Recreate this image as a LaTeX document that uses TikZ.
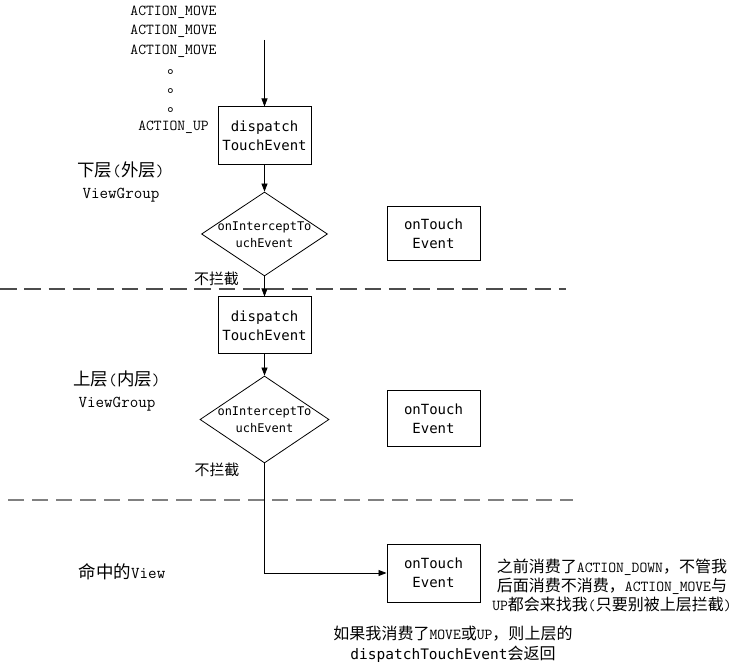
\documentclass[tikz,border=0pt]{standalone}
\usepackage{fontspec}
\newfontfamily\cjk{Noto Sans CJK SC}[Scale=1.053]
\newfontfamily\mono{DejaVu Sans Mono}
\newcommand\zhtxt[1]{{\cjk #1}}
\usetikzlibrary{shapes.geometric,arrows.meta}
\tikzset{
 box/.style={draw, line width=1pt, minimum width=93pt, inner sep=0pt, align=center, font=\mono\fontsize{14}{19}\selectfont},
 dia/.style={draw, diamond, line width=0.8pt, inner sep=0pt},
 diatext/.style={align=center, inner sep=0pt, font=\mono\fontsize{12}{17}\selectfont},
 lab/.style={inner sep=0pt, font=\ttfamily\fontsize{15.2}{19}\selectfont},
 small/.style={inner sep=0pt, font=\cjk\fontsize{14.2}{18}\selectfont},
 side/.style={inner sep=0pt, align=center, font=\ttfamily\fontsize{16.6}{22}\selectfont},
 conn/.style={line width=0.8pt},
 arr/.style={conn, -{Triangle[length=8pt,width=6pt]}},
 sepa/.style={draw=black!70, line width=1.1pt, dash pattern=on 16.7pt off 7.6pt},
 sepb/.style={draw=black!50, line width=1.7pt, dash pattern=on 16pt off 8pt},
}
\begin{document}
\begin{tikzpicture}[x=1pt,y={(0pt,-1pt)}]
\useasboundingbox (0,0) rectangle (732,663);
% top event list
\node[lab] (am1) at (173.5,12) {ACTION\_MOVE};
\node[lab] (am2) at (173.5,31.5) {ACTION\_MOVE};
\node[lab] (am3) at (173.5,51) {ACTION\_MOVE};
\node[lab] (dt1) at (175.5,72) {\zhtxt{。}};
\node[lab] (dt2) at (175.5,91) {\zhtxt{。}};
\node[lab] (dt3) at (175.5,110) {\zhtxt{。}};
\node[lab] (aup) at (173.5,127) {ACTION\_UP};
% boxes
\node[box, minimum height=58pt] (dte1) at (264.5,136) {dispatch\\TouchEvent};
\node[box, minimum height=57pt] (dte2) at (264.5,325.5) {dispatch\\TouchEvent};
\node[box, minimum height=54pt] (ote1) at (433.5,234) {onTouch\\Event};
\node[box, minimum height=56pt] (ote2) at (433.5,419) {onTouch\\Event};
\node[box, minimum height=58pt] (ote3) at (433.5,573) {onTouch\\Event};
% diamonds
\node[dia, minimum width=126pt, minimum height=84pt] (oi1) at (264.5,234) {};
\node[diatext] (oi1t) at (264.5,235) {onInterceptTo\\uchEvent};
\node[dia, minimum width=129pt, minimum height=87pt] (oi2) at (264.5,419.5) {};
\node[diatext] (oi2t) at (264.5,419.5) {onInterceptTo\\uchEvent};
% connectors
\coordinate (start) at (264.5,40);
\draw[arr] (start) -- (dte1.north);
\draw[arr] (dte1.south) -- (oi1.north);
\draw[arr] (oi1.south) -- (dte2.north);
\draw[arr] (dte2.south) -- (oi2.north);
\draw[arr] (oi2.south) |- (ote3.west);
% no-intercept labels
\node[small] (ni1) at (216.5,279) {不拦截};
\node[small] (ni2) at (217,470) {不拦截};
% separators
\coordinate (s1a) at (0,289);
\coordinate (s1b) at (566,289);
\draw[sepa] (s1a) -- (s1b);
\coordinate (s2a) at (8,500);
\coordinate (s2b) at (573,500);
\draw[sepb] (s2a) -- (s2b);
% side labels
\node[side] (lv1) at (121,182) {\zhtxt{下层}(\zhtxt{外层})\\ViewGroup};
\node[side] (lv2) at (117,391) {\zhtxt{上层}(\zhtxt{内层})\\ViewGroup};
\node[side] (lv3) at (122,572) {\zhtxt{命中的}View};
% notes
\node[lab, align=center] (note) at (612,585) {\zhtxt{之前消费了}ACTION\_DOWN\zhtxt{，不管我}\\\zhtxt{后面消费不消费，}ACTION\_MOVE\zhtxt{与}\\UP\zhtxt{都会来找我}(\zhtxt{只要别被上层拦截})};
\node[lab, align=center, font=\ttfamily\fontsize{15.2}{20}\selectfont] (bottom) at (453,644) {\zhtxt{如果我消费了}MOVE\zhtxt{或}UP\zhtxt{，则上层的}\\{\mono\fontsize{14.5}{20}\selectfont dispatchTouchEvent}\zhtxt{会返回}};
\end{tikzpicture}
\end{document}
